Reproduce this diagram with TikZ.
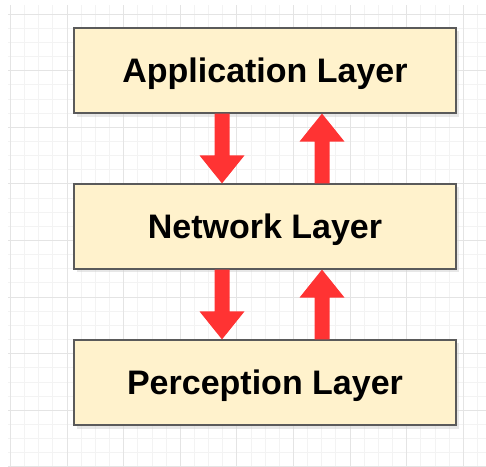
\documentclass[tikz,border=0pt]{standalone}
\usepackage{fontspec}
\setmainfont{Liberation Sans}
\definecolor{boxfill}{HTML}{FFF2CC}
\definecolor{boxline}{HTML}{5A5A5A}
\definecolor{arrowred}{HTML}{FF3333}
\definecolor{gridmajor}{HTML}{E4E4E4}
\definecolor{gridminor}{HTML}{F3F3F3}
\tikzset{
  layerbox/.style={draw=boxline, line width=1.2pt, fill=boxfill, minimum width=382pt, minimum height=85pt, inner sep=0pt, text height=24.3pt, text depth=0pt, font=\fontsize{34}{40}\selectfont\bfseries, text=black},
  boxshadow/.style={fill=black!18, draw=none},
  redarrow/.style={fill=arrowred, draw=none}
}
\begin{document}
\begin{tikzpicture}[x=1pt,y=-1pt]
\useasboundingbox (0,0) rectangle (486,466);
\fill[white] (0,0) rectangle (486,466);
% grid
\begin{scope}
\clip (8,5) rectangle (486,466);
\foreach \i in {-1,...,34} {
  \draw[gridminor, line width=0.8pt] ({10.4+14.15*\i},5) -- ({10.4+14.15*\i},466);
  \draw[gridminor, line width=0.8pt] (8,{14+14.15*\i}) -- (486,{14+14.15*\i});
}
\foreach \i in {0,...,8} {
  \draw[gridmajor, line width=1pt] ({10.4+56.6*\i},5) -- ({10.4+56.6*\i},466);
  \draw[gridmajor, line width=1pt] (8,{14+56.6*\i}) -- (486,{14+56.6*\i});
}
\end{scope}
% shadows
\fill[boxshadow, opacity=0.5] (77,31) rectangle (459,116.5);
\fill[boxshadow, opacity=0.5] (77,187) rectangle (459,272);
\fill[boxshadow, opacity=0.5] (77,343) rectangle (459,428.5);
% boxes
\node[layerbox] (app) at (265,70.5) {Application Layer};
\node[layerbox] (net) at (265,226.5) {Network Layer};
\node[layerbox] (per) at (265,382.5) {Perception Layer};
% arrows: down at x=222, up at x=322 (yshift is in canvas direction: + is up)
\coordinate (d1s) at (222,0 |- app.south);
\coordinate (d1e) at (222,0 |- net.north);
\fill[redarrow] ([xshift=-7.5pt]d1s) -- ([xshift=-7.5pt,yshift=28pt]d1e) -- ([xshift=-22.5pt,yshift=28pt]d1e) -- (d1e) -- ([xshift=22.5pt,yshift=28pt]d1e) -- ([xshift=7.5pt,yshift=28pt]d1e) -- ([xshift=7.5pt]d1s) -- cycle;
\coordinate (u1s) at (322,0 |- net.north);
\coordinate (u1e) at (322,0 |- app.south);
\fill[redarrow] ([xshift=-7.5pt]u1s) -- ([xshift=-7.5pt,yshift=-28pt]u1e) -- ([xshift=-22.5pt,yshift=-28pt]u1e) -- (u1e) -- ([xshift=22.5pt,yshift=-28pt]u1e) -- ([xshift=7.5pt,yshift=-28pt]u1e) -- ([xshift=7.5pt]u1s) -- cycle;
\coordinate (d2s) at (222,0 |- net.south);
\coordinate (d2e) at (222,0 |- per.north);
\fill[redarrow] ([xshift=-7.5pt]d2s) -- ([xshift=-7.5pt,yshift=28pt]d2e) -- ([xshift=-22.5pt,yshift=28pt]d2e) -- (d2e) -- ([xshift=22.5pt,yshift=28pt]d2e) -- ([xshift=7.5pt,yshift=28pt]d2e) -- ([xshift=7.5pt]d2s) -- cycle;
\coordinate (u2s) at (322,0 |- per.north);
\coordinate (u2e) at (322,0 |- net.south);
\fill[redarrow] ([xshift=-7.5pt]u2s) -- ([xshift=-7.5pt,yshift=-28pt]u2e) -- ([xshift=-22.5pt,yshift=-28pt]u2e) -- (u2e) -- ([xshift=22.5pt,yshift=-28pt]u2e) -- ([xshift=7.5pt,yshift=-28pt]u2e) -- ([xshift=7.5pt]u2s) -- cycle;
\end{tikzpicture}
\end{document}
